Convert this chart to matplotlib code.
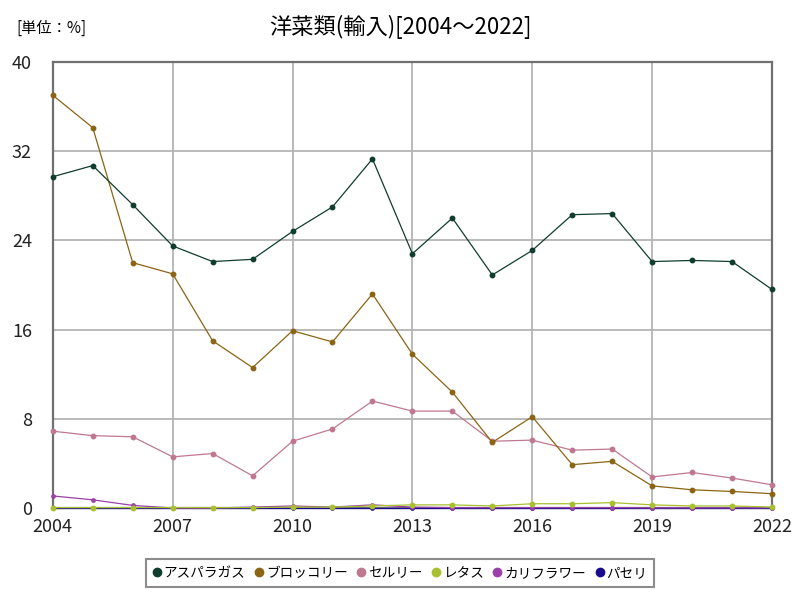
import matplotlib.pyplot as plt

plt.rcParams['font.family'] = ['Noto Sans CJK JP', 'DejaVu Sans']

years = list(range(2004, 2023))

asparagus = [29.7, 30.7, 27.2, 23.5, 22.1, 22.3, 24.8, 27.0, 31.3, 22.8,
             26.0, 20.9, 23.1, 26.3, 26.4, 22.1, 22.2, 22.1, 19.6]
broccoli = [37.0, 34.1, 22.0, 21.0, 15.0, 12.6, 15.9, 14.9, 19.2, 13.8,
            10.4, 5.9, 8.2, 3.9, 4.2, 2.0, 1.65, 1.5, 1.3]
celery = [6.9, 6.5, 6.4, 4.6, 4.9, 2.9, 6.0, 7.1, 9.6, 8.7,
          8.7, 6.0, 6.1, 5.2, 5.3, 2.8, 3.2, 2.7, 2.1]
lettuce = [0.05, 0.05, 0.05, 0.05, 0.05, 0.05, 0.1, 0.1, 0.2, 0.3,
           0.3, 0.2, 0.4, 0.4, 0.5, 0.3, 0.2, 0.2, 0.1]
cauliflower = [1.1, 0.75, 0.25, 0.02, 0.02, 0.1, 0.2, 0.1, 0.3, 0.1,
               0.05, 0.05, 0.05, 0.05, 0.05, 0.03, 0.03, 0.03, 0.03]
parsley = [0.02] * 19

series = [
    ('アスパラガス', asparagus, '#0f3d2e'),
    ('ブロッコリー', broccoli, '#8b6414'),
    ('セルリー', celery, '#c07890'),
    ('レタス', lettuce, '#a8c030'),
    ('カリフラワー', cauliflower, '#9a40a8'),
    ('パセリ', parsley, '#1a0a8c'),
]

fig = plt.figure(figsize=(8, 6), dpi=100)
ax = fig.add_axes([0.066, 0.153, 0.899, 0.744])

n = len(series)
for i, (name, vals, col) in enumerate(series):
    ms = 3.2 if i < 4 else 2.4
    ax.plot(years, vals, color=col, linewidth=0.9, marker='o', markersize=ms,
            label=name, clip_on=False, zorder=3 + n - i)

ax.set_xlim(2004, 2022)
ax.set_ylim(0, 40)
ax.set_xticks([2004, 2007, 2010, 2013, 2016, 2019, 2022])
ax.set_yticks([0, 8, 16, 24, 32, 40])
ax.grid(True, color='#b4b4b4', linewidth=1.3)
ax.set_axisbelow(True)
for s in ax.spines.values():
    s.set_color('#707070')
    s.set_linewidth(1.6)
ax.tick_params(length=0, labelsize=13, colors='#222222')
ax.tick_params(axis='x', pad=7)
ax.tick_params(axis='y', pad=15)

fig.text(0.5, 0.955, '洋菜類(輸入)[2004～2022]', ha='center', va='center', fontsize=16)
fig.text(0.02, 0.953, '[単位：%]', ha='left', va='center', fontsize=11)

leg = fig.legend(loc='center', bbox_to_anchor=(0.5, 0.045), ncol=6, fontsize=9.8,
                 frameon=True, fancybox=False, edgecolor='#707070',
                 handlelength=0.6, handletextpad=0.2, columnspacing=0.7,
                 borderpad=0.5)
leg.get_frame().set_linewidth(1.5)
for h in leg.legend_handles:
    h.set_linestyle('')
    h.set_markersize(6)

fig.savefig('out.png', dpi=100)
